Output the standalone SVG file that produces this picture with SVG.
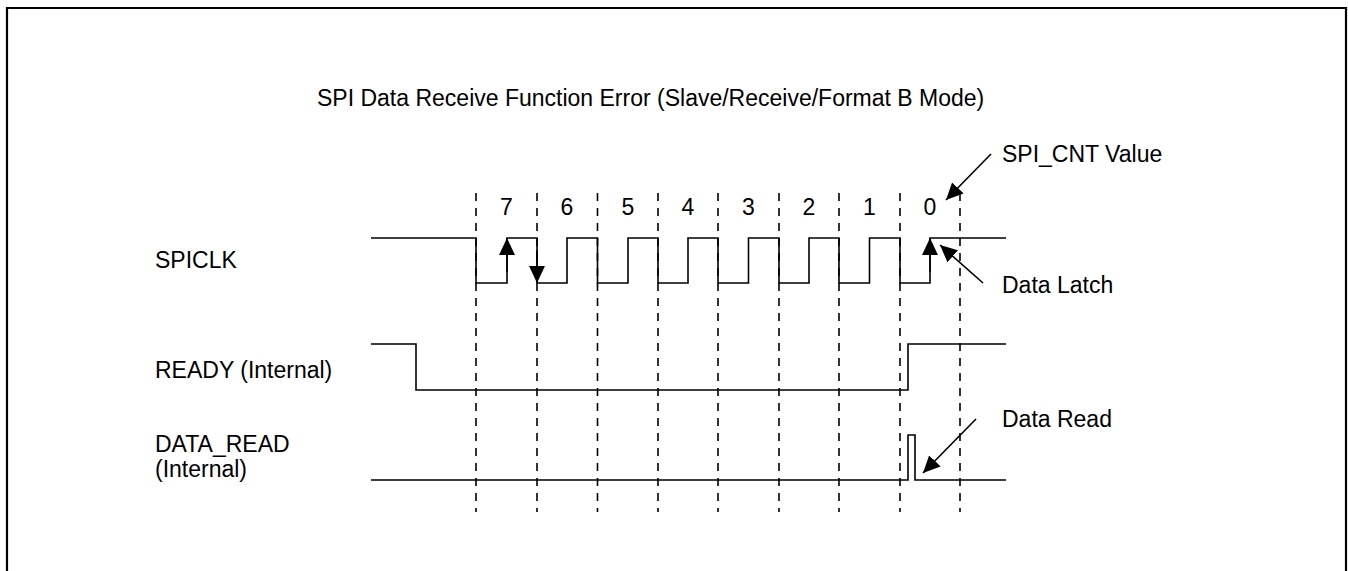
<svg xmlns="http://www.w3.org/2000/svg" width="1348" height="571" viewBox="0 0 1348 571">
<style>
text{font-family:"Liberation Sans",Arial,sans-serif;font-size:23px;fill:#000}
.wave{fill:none;stroke:#000;stroke-width:1.6}
.dash{fill:none;stroke:#000;stroke-width:1.6;stroke-dasharray:8 7}
.arr{fill:none;stroke:#000;stroke-width:1.6;marker-end:url(#ah)}
.mid{text-anchor:middle}
</style>
<defs>
<marker id="ah" markerUnits="userSpaceOnUse" markerWidth="18" markerHeight="16" refX="17" refY="8" orient="auto">
<path d="M0,0 L17,8 L0,16 Z" fill="#000"/>
</marker>
</defs>
<rect x="0" y="0" width="1348" height="571" fill="#fff"/>
<path d="M7,580 V8 H1346 V580" fill="none" stroke="#000" stroke-width="2.2"/>
<g id="title"><text x="317" y="106">SPI Data Receive Function Error (Slave/Receive/Format B Mode)</text></g>
<g id="gridlines">
<path class="dash" d="M476,193V512M537,193V512M597.5,193V512M658,193V512M718,193V512M779,193V512M839,193V512M900,193V512M960,193V512"/>
</g>
<g id="counts">
<text class="mid" x="506.5" y="215">7</text>
<text class="mid" x="567" y="215">6</text>
<text class="mid" x="628" y="215">5</text>
<text class="mid" x="688" y="215">4</text>
<text class="mid" x="748.5" y="215">3</text>
<text class="mid" x="809" y="215">2</text>
<text class="mid" x="869.5" y="215">1</text>
<text class="mid" x="930" y="215">0</text>
</g>
<g id="spiclk">
<text x="155" y="268">SPICLK</text>
<path class="wave" d="M371,238H476V283H507V238H537V283H567V238H597.5V283H628V238H658V283H688V238H718V283H748.5V238H779V283H809V238H839V283H869.5V238H900V283H930V238H1006"/>
</g>
<g id="ready">
<text x="155" y="378">READY (Internal)</text>
<path class="wave" d="M371,344H416V390H908V344H1006"/>
</g>
<g id="data_read">
<text x="155" y="452">DATA_READ</text>
<text x="155" y="477">(Internal)</text>
<path class="wave" d="M371,480H908V435H915V480H1006"/>
</g>
<g id="spi_cnt_label"><text x="1002" y="162">SPI_CNT Value</text></g>
<g id="data_latch_label"><text x="1002" y="293">Data Latch</text></g>
<g id="data_read_label"><text x="1002" y="427">Data Read</text></g>
<g id="connectors">
<path class="arr" d="M507,272V238"/>
<path class="arr" d="M537,250V283"/>
<path class="arr" d="M930,272V238"/>
<path class="arr" d="M991,154L946,200"/>
<path class="arr" d="M983,283L940,245"/>
<path class="arr" d="M976,419L923,473"/>
</g>
</svg>
